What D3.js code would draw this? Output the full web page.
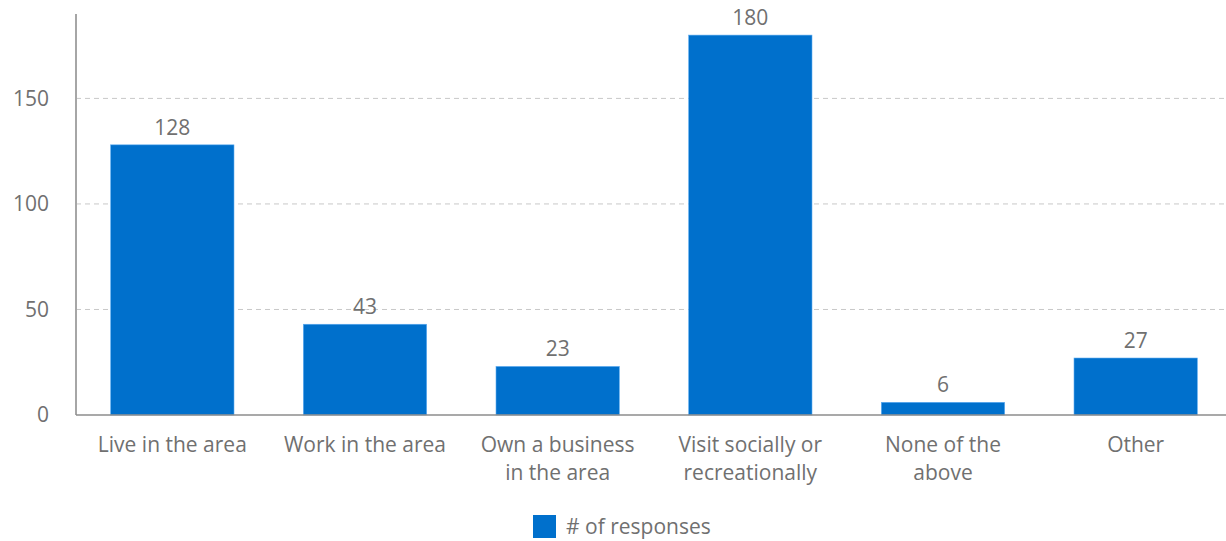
<!DOCTYPE html>
<html>
<head>
<meta charset="utf-8">
<script src="https://cdn.jsdelivr.net/npm/d3@7"></script>
<style>
  body { margin: 0; background: #fff; }
  text { font-family: "Open Sans", Lato, sans-serif; }
</style>
</head>
<body>
<div id="chart"></div>
<script>
(function () {
    let categories = [
        ['Live in the area'],
        ['Work in the area'],
        ['Own a business', 'in the area'],
        ['Visit socially or', 'recreationally'],
        ['None of the', 'above'],
        ['Other']
    ];
    let responses = [128, 43, 23, 180, 6, 27];
    let yTicks = [0, 50, 100, 150];
    let seriesName = '# of responses';

    let width = 1226, height = 541;
    let svg = d3.select('#chart')
        .append('svg')
        .attr('width', width)
        .attr('height', height);

    let left = 76, right = 1232, top = 14, bottom = 415;
    let fontSize = 21;

    let x = d3.scaleBand()
        .domain(d3.range(categories.length))
        .range([left, right])
        .paddingInner(0.36)
        .paddingOuter(0.18);

    let y = d3.scaleLinear()
        .domain([0, 190])
        .range([bottom, top]);

    // 网格线
    svg.append('g')
        .selectAll('line')
        .data(yTicks.filter(function (d) { return d > 0; }))
        .enter()
        .append('line')
        .attr('x1', left)
        .attr('x2', width)
        .attr('y1', function (d) { return y(d); })
        .attr('y2', function (d) { return y(d); })
        .attr('stroke', '#c8c8c8')
        .attr('stroke-width', 1)
        .attr('stroke-dasharray', '5,4');

    // y轴
    let axisY = d3.axisLeft(y)
        .tickValues(yTicks)
        .tickSize(0)
        .tickPadding(27);

    let gy = svg.append('g')
        .attr('transform', 'translate(' + left + ',0)')
        .call(axisY);
    gy.select('.domain').remove();
    gy.selectAll('text')
        .attr('font-size', fontSize)
        .attr('fill', '#707070')
        .attr('font-family', '"Open Sans", sans-serif');

    svg.append('line')
        .attr('x1', left)
        .attr('x2', left)
        .attr('y1', top)
        .attr('y2', bottom)
        .attr('stroke', '#a6a6a6')
        .attr('stroke-width', 2);

    // 柱子
    svg.selectAll('rect.bar')
        .data(responses)
        .enter()
        .append('rect')
        .attr('class', 'bar')
        .attr('x', function (d, i) { return x(i); })
        .attr('y', function (d) { return y(d); })
        .attr('width', x.bandwidth())
        .attr('height', function (d) { return bottom - y(d); })
        .attr('fill', '#0070cc')
        .attr('stroke', '#5aaaf0')
        .attr('stroke-width', 0.6);

    // x轴
    let axisX = d3.axisBottom(x).tickSize(0).tickFormat('');
    let gx = svg.append('g')
        .attr('transform', 'translate(0,' + bottom + ')')
        .call(axisX);
    gx.select('.domain')
        .attr('stroke', '#8c8c8c')
        .attr('stroke-width', 1.5)
        .attr('d', 'M' + left + ',0H' + width);

    svg.append('g')
        .selectAll('text')
        .data(categories)
        .enter()
        .append('text')
        .attr('x', function (d, i) { return x(i) + x.bandwidth() / 2; })
        .attr('y', 452)
        .attr('text-anchor', 'middle')
        .attr('font-size', fontSize)
        .attr('fill', '#707070')
        .each(function (d) {
            let t = d3.select(this);
            d.forEach(function (line, j) {
                t.append('tspan')
                    .attr('x', t.attr('x'))
                    .attr('dy', j === 0 ? 0 : 28)
                    .text(line);
            });
        });

    // 数值标签
    svg.append('g')
        .selectAll('text')
        .data(responses)
        .enter()
        .append('text')
        .attr('x', function (d, i) { return x(i) + x.bandwidth() / 2; })
        .attr('y', function (d) { return y(d) - 10; })
        .attr('text-anchor', 'middle')
        .attr('font-size', fontSize)
        .attr('fill', '#707070')
        .text(function (d) { return d; });

    // 图例
    let legend = svg.append('g').attr('transform', 'translate(533,515)');
    legend.append('rect')
        .attr('width', 23)
        .attr('height', 23)
        .attr('fill', '#0070cc');
    legend.append('text')
        .attr('x', 33)
        .attr('y', 19)
        .attr('font-size', fontSize)
        .attr('fill', '#707070')
        .text(seriesName);
})();
</script>
</body>
</html>
